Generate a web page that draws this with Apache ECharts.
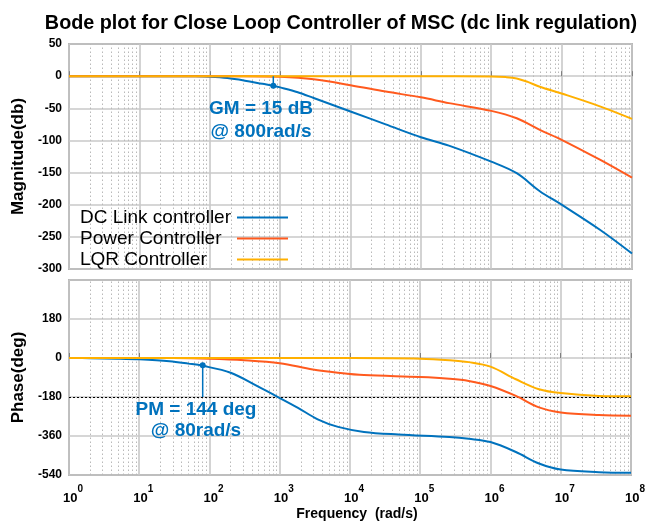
<!DOCTYPE html>
<html>
<head>
<meta charset="utf-8">
<script src="https://cdn.jsdelivr.net/npm/echarts@6/dist/echarts.min.js"></script>
<style>
html,body{margin:0;padding:0;background:#fff;}
#chart{width:648px;height:522px;}
</style>
</head>
<body>
<div id="chart"></div>
<script>
// ---------------- DATA ----------------
const seriesNames = ['DC Link controller', 'Power Controller', 'LQR Controller'];
const xTickExponents = [0, 1, 2, 3, 4, 5, 6, 7, 8];
const magTicks = [50, 0, -50, -100, -150, -200, -250, -300];
const phaseTicks = [180, 0, -180, -360, -540];

// Magnitude (dB)
const blueMagW  = [1, 30, 60, 100, 178, 316, 562, 800, 1000, 1778, 3000, 10000, 31623, 1e5, 2.5e5, 1e6, 2.3e6, 4.9e6, 1e7, 3.5e7, 1e8];
const blueMagDb = [0, 0, -0.3, -1, -3, -7, -12, -15, -17.5, -25, -34, -55, -75, -95, -108, -133, -151, -179, -200, -239, -276];

const orangeMagW  = [1, 300, 1000, 3000, 10000, 31623, 1e5, 2.5e5, 1e6, 2.3e6, 4.9e6, 1e7, 3.5e7, 1e8];
const orangeMagDb = [0, 0, -1, -5, -14, -24, -33, -42, -54, -65.5, -83.5, -99, -130, -158];

const yellowMagW  = [1, 1e5, 1e6, 1.6e6, 2.3e6, 3.3e6, 4.9e6, 1e7, 3.5e7, 1e8];
const yellowMagDb = [0, 0, -0.5, -1.5, -3.6, -9, -16.5, -27, -47, -66.5];

// Phase (deg)
const bluePhW   = [1, 2, 5, 10, 27, 50, 80, 200, 480, 930, 1820, 3470, 6760, 15800, 49000, 2.6e5, 4.9e5, 1e6, 2.3e6, 4.9e6, 1e7, 3.5e7, 1e8];
const bluePhDeg = [0, -1, -3, -6, -15, -26, -36, -68, -130, -179, -230, -283, -318, -341, -353, -365, -373, -388, -434, -487, -515, -527, -530];

const orangePhW   = [1, 30, 100, 316, 1000, 2950, 6760, 15800, 1e5, 2.6e5, 4.9e5, 1e6, 2.3e6, 4.9e6, 1e7, 3.5e7, 1e8];
const orangePhDeg = [0, -0.5, -3, -10, -24, -53, -68, -79, -88, -96, -106, -129, -175, -228, -251, -263, -266];

const yellowPhW   = [1, 1e4, 1e5, 2.6e5, 4.9e5, 1e6, 2.3e6, 4.9e6, 1e7, 3.5e7, 1e8];
const yellowPhDeg = [0, -0.5, -3, -10, -19, -40, -98, -144, -162, -175, -177];

// Margins
const gmFreq = 800, gmDb = -15;
const pmFreq = 80, pmPhase = -34, pmRef = -180;

// ---------------- STYLE ----------------
const FONT = 'Liberation Sans';
const colors = ['#0072BD', '#FF5A1E', '#FFB000'];
const gridColor = '#c8c8c8';
const frameColor = '#808080';

function zip(xs, ys) { return xs.map((x, i) => [x, ys[i]]); }

// minor decade grid positions (2..9 x 10^n)
const minorFreqs = [];
for (let n = 0; n < 8; n++) for (let k = 2; k <= 9; k++) minorFreqs.push(k * Math.pow(10, n));

function minorMarkLine(extra) {
  const data = minorFreqs.map(f => ({ xAxis: f, lineStyle: { color: '#b9b9b9', type: [1.5, 2.5], width: 1 } }));
  return { silent: true, z: 1, symbol: 'none', label: { show: false }, animation: false, data: data.concat(extra || []) };
}

function xAxisCfg(gridIndex, showLabels) {
  return {
    type: 'log', logBase: 10, min: 1, max: 1e8, gridIndex: gridIndex, splitNumber: 8,
    axisLine: { show: false },
    axisTick: { show: true, inside: true, length: 5, lineStyle: { color: frameColor } },
    splitLine: { show: true, lineStyle: { color: gridColor, width: 1.6 } },
    axisLabel: {
      show: showLabels, margin: 9,
      formatter: function (v) {
        const e = Math.round(Math.log10(v));
        return '{b|10}{s|' + e + '}';
      },
      rich: {
        b: { fontFamily: FONT, fontWeight: 'bold', fontSize: 13, color: '#000', lineHeight: 21, verticalAlign: 'bottom', padding: [0, 0, 0, 8] },
        s: { fontFamily: FONT, fontWeight: 'bold', fontSize: 10, color: '#000', verticalAlign: 'top', padding: [0, 0, 0, 0] }
      }
    },
    name: showLabels ? 'Frequency  (rad/s)' : '',
    nameLocation: 'middle', nameGap: 32,
    nameTextStyle: { fontFamily: FONT, fontWeight: 'bold', fontSize: 14, color: '#000', padding: [0, 0, 0, 14] }
  };
}

function yAxisCfg(gridIndex, min, max, interval, name, hideTop) {
  return {
    type: 'value', gridIndex: gridIndex, min: min, max: max, interval: interval,
    axisLine: { show: false },
    axisTick: { show: false },
    splitLine: { show: true, lineStyle: { color: gridColor, width: 1.6 } },
    axisLabel: {
      fontFamily: FONT, fontWeight: 'bold', fontSize: 12, color: '#000', margin: 7,
      formatter: function (v) { return (hideTop && v === max) ? '' : String(v); }
    },
    name: name, nameLocation: 'middle', nameRotate: 90, nameGap: 40,
    nameTextStyle: { fontFamily: FONT, fontWeight: 'bold', fontSize: 17, color: '#000' }
  };
}

function lineSeries(name, data, color, xi, yi) {
  return {
    name: name, type: 'line', xAxisIndex: xi, yAxisIndex: yi, data: data,
    symbol: 'none', smooth: 0.35,
    lineStyle: { color: color, width: 2 }, itemStyle: { color: color }, z: 4
  };
}

const option = {
  animation: false,
  backgroundColor: '#fff',
  title: {
    text: 'Bode plot for Close Loop Controller of MSC (dc link regulation)',
    left: 336, top: 9, textAlign: 'center',
    textStyle: { fontFamily: FONT, fontWeight: 'bold', fontSize: 19.8, color: '#000' }
  },
  grid: [
    { left: 69, right: 16, top: 44, height: 225, show: true, borderColor: frameColor, borderWidth: 1.5, backgroundColor: '#fff' },
    { left: 69, right: 16, top: 280, height: 197, show: true, borderColor: frameColor, borderWidth: 1.5, backgroundColor: '#fff' }
  ],
  xAxis: [xAxisCfg(0, false), xAxisCfg(1, true)],
  yAxis: [
    yAxisCfg(0, -300, 50, 50, 'Magnitude(db)', false),
    yAxisCfg(1, -540, 360, 180, 'Phase(deg)', true)
  ],
  legend: [
    {
      data: seriesNames, orient: 'vertical', left: 70, top: 202, itemGap: 0,
      itemWidth: 0, itemHeight: 0, icon: 'rect', selectedMode: false,
      textStyle: { fontFamily: FONT, fontSize: 19, color: '#000', lineHeight: 21 }
    },
    {
      data: seriesNames, orient: 'vertical', left: 232, top: 202, itemGap: 0,
      itemWidth: 51, itemHeight: 2, icon: 'rect', selectedMode: false,
      formatter: function () { return ' '; },
      textStyle: { fontFamily: FONT, fontSize: 19, color: '#000', lineHeight: 21 }
    }
  ],
  graphic: [
    { type: 'text', x: 261, y: 109, z: 10, style: { text: 'GM = 15 dB', font: 'bold 19px "Liberation Sans"', fill: '#0072BD', textAlign: 'center', textVerticalAlign: 'middle' } },
    { type: 'text', x: 261, y: 132, z: 10, style: { text: '@ 800rad/s', font: 'bold 19px "Liberation Sans"', fill: '#0072BD', textAlign: 'center', textVerticalAlign: 'middle' } },
    { type: 'text', x: 196, y: 410, z: 10, style: { text: 'PM = 144 deg', font: 'bold 19px "Liberation Sans"', fill: '#0072BD', textAlign: 'center', textVerticalAlign: 'middle' } },
    { type: 'text', x: 196, y: 431, z: 10, style: { text: '@ 80rad/s', font: 'bold 19px "Liberation Sans"', fill: '#0072BD', textAlign: 'center', textVerticalAlign: 'middle' } }
  ],
  series: [
    // grid decorations
    { type: 'line', xAxisIndex: 0, yAxisIndex: 0, data: [], z: 1, markLine: minorMarkLine() },
    { type: 'line', xAxisIndex: 1, yAxisIndex: 1, data: [], z: 1,
      markLine: minorMarkLine([{ yAxis: pmRef, lineStyle: { color: '#000', type: [2, 2], width: 1 } }]) },
    // magnitude
    lineSeries(seriesNames[0], zip(blueMagW, blueMagDb), colors[0], 0, 0),
    lineSeries(seriesNames[1], zip(orangeMagW, orangeMagDb), colors[1], 0, 0),
    lineSeries(seriesNames[2], zip(yellowMagW, yellowMagDb), colors[2], 0, 0),
    // phase
    lineSeries(seriesNames[0], zip(bluePhW, bluePhDeg), colors[0], 1, 1),
    lineSeries(seriesNames[1], zip(orangePhW, orangePhDeg), colors[1], 1, 1),
    lineSeries(seriesNames[2], zip(yellowPhW, yellowPhDeg), colors[2], 1, 1),
    // GM marker
    { type: 'line', xAxisIndex: 0, yAxisIndex: 0, z: 6, silent: true,
      data: [{ value: [gmFreq, 0], symbol: 'none' }, { value: [gmFreq, gmDb], symbol: 'circle', symbolSize: 6 }],
      showSymbol: true, lineStyle: { color: '#0072BD', width: 1.5 }, itemStyle: { color: '#0072BD' } },
    // PM marker
    { type: 'line', xAxisIndex: 1, yAxisIndex: 1, z: 6, silent: true,
      data: [{ value: [pmFreq, pmPhase], symbol: 'circle', symbolSize: 6 }, { value: [pmFreq, pmRef], symbol: 'none' }],
      showSymbol: true, lineStyle: { color: '#0072BD', width: 1.5 }, itemStyle: { color: '#0072BD' } }
  ]
};

const chart = echarts.init(document.getElementById('chart'), null, { renderer: 'canvas' });
chart.setOption(option);
</script>
</body>
</html>
